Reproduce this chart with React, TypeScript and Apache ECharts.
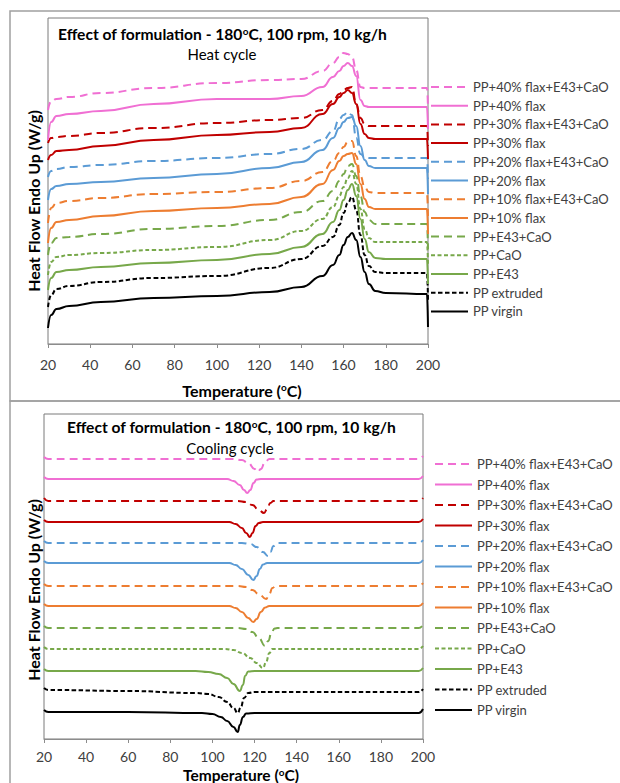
import React, { useEffect, useRef } from "react";
import * as echarts from "echarts";

const FONT = "Lato, 'Open Sans', sans-serif";

// ---- series (legend order, top to bottom) ----
const SERIES_NAMES = [
  "PP+40% flax+E43+CaO",
  "PP+40% flax",
  "PP+30% flax+E43+CaO",
  "PP+30% flax",
  "PP+20% flax+E43+CaO",
  "PP+20% flax",
  "PP+10% flax+E43+CaO",
  "PP+10% flax",
  "PP+E43+CaO",
  "PP+CaO",
  "PP+E43",
  "PP extruded",
  "PP virgin",
];
const SERIES_COLORS = [
  "#F06FD3", "#F06FD3", "#C00000", "#C00000", "#5B9BD5", "#5B9BD5",
  "#ED7D31", "#ED7D31", "#77A84A", "#77A84A", "#77A84A", "#000000", "#000000",
];
const SERIES_DASH: (number[] | string)[] = [
  [8, 5], "solid", [8, 5], "solid", [8, 5], "solid", [8, 5], "solid",
  [8, 5], [4, 2.5], "solid", [4.5, 2.5], "solid",
];

const TEMP_TICKS = [20, 40, 60, 80, 100, 120, 140, 160, 180, 200];

// ---- heat cycle: temperatures (°C) and heat flow (arbitrary offset units) ----
const HEAT_T = [20, 21.5, 24, 30, 45, 70, 100, 125, 140, 150, 155, 158, 160, 162, 164, 166, 168, 170, 172, 175, 180, 199.5, 200];
const HEAT_40E = [234, 243, 245, 247, 251, 256, 261, 264, 265, 273, 281, 287, 291, 290, 287, 274, 257, 256, 256, 256, 256, 256, 236];
const HEAT_40 = [204, 222, 228, 230, 233, 240, 245, 245, 248, 257, 267, 273, 278, 281, 278, 268, 244, 238, 237, 237, 237, 237, 215];
const HEAT_30E = [201, 206, 207, 208, 211, 216, 221, 224, 226, 234, 243, 250, 254, 256, 257, 240, 226, 220, 218, 218, 218, 218, 198];
const HEAT_30 = [184, 189, 193, 194, 198, 204, 209, 212, 216, 230, 240, 247, 251, 254, 251, 240, 220, 210, 206, 205, 205, 205, 185];
const HEAT_20E = [167, 173, 175, 177, 179, 183, 186, 190, 195, 204, 213, 225, 229, 232, 229, 206, 190, 187, 186, 186, 186, 186, 165];
const HEAT_20 = [144, 155, 158, 160, 162, 166, 170, 176, 182, 194, 206, 216, 222, 226, 227, 218, 198, 184, 178, 176, 176, 176, 150];
const HEAT_10E = [121, 136, 141, 143, 146, 150, 152, 156, 163, 172, 183, 191, 197, 202, 203, 188, 168, 157, 152, 151, 151, 151, 128];
const HEAT_10 = [101, 116, 122, 124, 128, 133, 136, 140, 147, 160, 174, 183, 188, 190, 191, 180, 160, 145, 137, 135, 135, 135, 110];
const HEAT_E43CAO = [89, 101, 106, 107, 110, 115, 118, 124, 132, 143, 153, 163, 170, 178, 180, 168, 148, 132, 124, 120, 120, 120, 95];
const HEAT_CAO = [69, 82, 87, 89, 91, 94, 97, 104, 113, 125, 137, 148, 157, 166, 173, 160, 135, 115, 106, 102, 102, 102, 80];
const HEAT_E43 = [54, 66, 72, 74, 77, 81, 84, 90, 97, 110, 122, 134, 144, 154, 160, 148, 125, 105, 92, 86, 85, 85, 60];
const HEAT_EXTRUDED = [37, 49, 55, 58, 62, 66, 68, 76, 85, 98, 107, 119, 131, 141, 147, 134, 109, 89, 78, 72, 71, 71, 44];
const HEAT_VIRGIN = [16, 29, 35, 38, 42, 46, 48, 52, 57, 68, 79, 89, 99, 107, 111, 104, 87, 72, 60, 53, 51, 50, 17];
const HEAT_VALUES = [
  HEAT_40E, HEAT_40, HEAT_30E, HEAT_30, HEAT_20E, HEAT_20, HEAT_10E, HEAT_10,
  HEAT_E43CAO, HEAT_CAO, HEAT_E43, HEAT_EXTRUDED, HEAT_VIRGIN,
];
const HEAT_Y_MAX = 326;

// ---- cooling cycle: [temperature °C, heat flow (arbitrary offset units)] ----
const COOL_40E = [[20, 282], [22, 280], [110, 280], [114, 279], [117, 276], [120, 270], [121.5, 267], [123, 270], [125, 277], [127, 280], [198, 280], [200, 283]];
const COOL_40 = [[20, 262], [22, 260], [107, 260], [110, 258], [113, 254], [115, 249], [116.5, 246], [118, 249], [119.5, 256], [121, 259.5], [123, 260], [198, 260], [200, 263]];
const COOL_30E = [[20, 241], [22, 238], [112, 238], [116, 237], [119, 234], [122, 229], [124.5, 226], [126, 230], [127.5, 236], [129, 238], [198, 238], [200, 241]];
const COOL_30 = [[20, 219], [22, 217], [108, 217], [111, 215], [114, 211], [116, 206], [117.8, 202], [119, 206], [120.5, 213], [122, 216], [124, 217], [198, 217], [200, 220]];
const COOL_20E = [[20, 198], [22, 196], [114, 196], [118, 195], [121, 192], [124, 187], [126.4, 183], [127.5, 187], [129, 193], [130.5, 196], [198, 196], [200, 199]];
const COOL_20 = [[20, 178], [22, 176], [108, 176], [111, 174], [114, 170], [117, 164], [119.4, 159], [121, 163], [122.5, 170], [124, 174.5], [126, 176], [198, 176], [200, 179]];
const COOL_10E = [[20, 155], [22, 153], [112, 153], [116, 152], [119, 149], [122, 145], [125.5, 140], [127, 145], [128.5, 151], [130, 153], [198, 153], [200, 156]];
const COOL_10 = [[20, 135], [22, 133], [108, 133], [111, 131], [114, 127], [117, 121], [119.4, 117], [121, 120], [123, 127], [125, 131.5], [127, 133], [198, 133], [200, 136]];
const COOL_E43CAO = [[20, 113], [22, 111], [112, 111], [116, 110], [119, 107], [122, 101], [125, 93], [126.5, 98], [128, 106], [129.5, 110.5], [131, 111], [198, 111], [200, 114]];
const COOL_CAO = [[20, 92], [22, 90], [106, 90], [110, 89], [114, 86], [118, 81], [121, 76], [124, 71], [125.5, 77], [127, 86], [128.5, 90], [198, 90], [200, 93]];
const COOL_E43 = [[20, 70], [22, 68], [92, 68], [98, 67], [103, 65], [107, 61], [110, 55], [113, 48], [114.5, 54], [115.5, 63], [117, 67.5], [120, 68], [198, 68], [200, 71]];
const COOL_EXTRUDED = [[20, 51], [22, 49], [60, 48], [92, 46], [98, 45], [103, 42], [107, 37], [110, 31], [112, 26], [113.5, 32], [115, 41], [117, 46], [120, 47], [198, 47], [200, 50]];
const COOL_VIRGIN = [[20, 29], [22, 27], [60, 27], [95, 26], [100, 25], [104, 22], [107, 18], [110, 12], [112, 7], [113, 14], [114.5, 22], [116, 25.5], [120, 26], [198, 26], [200, 30]];
const COOL_VALUES = [
  COOL_40E, COOL_40, COOL_30E, COOL_30, COOL_20E, COOL_20, COOL_10E, COOL_10,
  COOL_E43CAO, COOL_CAO, COOL_E43, COOL_EXTRUDED, COOL_VIRGIN,
];
const COOL_Y_MAX = 325;

const TITLE_MAIN = ["Effect of formulation - 180", "o", "C, 100 rpm, 10 kg/h"];
const SUB_HEAT = "Heat cycle";
const SUB_COOL = "Cooling cycle";
const X_TITLE = ["Temperature (", "o", "C)"];
const Y_TITLE = "Heat Flow Endo Up (W/g)";

function supRich(size: number) {
  return {
    b: { fontFamily: FONT, fontWeight: "bold", fontSize: size, color: "#000", lineHeight: Math.round(size) },
    s: { fontFamily: FONT, fontWeight: "bold", fontSize: Math.round(size * 0.65), color: "#000", lineHeight: Math.round(size * 0.65), verticalAlign: "top" },
  };
}
function supText(parts: string[]) {
  return `{b|${parts[0]}}{s|${parts[1]}}{b|${parts[2]}}`;
}

export default function App() {
  const ref = useRef<HTMLDivElement>(null);
  useEffect(() => {
    if (!ref.current) return;
    const chart = echarts.init(ref.current, undefined, { renderer: "svg" });

    const grids = [
      { left: 48, top: 18, right: 192, bottom: 439 },
      { left: 44, top: 414, right: 197, bottom: 44 },
    ];

    const xAxes = grids.map((_, i) => ({
      type: "value",
      gridIndex: i,
      min: TEMP_TICKS[0],
      max: TEMP_TICKS[TEMP_TICKS.length - 1],
      interval: TEMP_TICKS[1] - TEMP_TICKS[0],
      axisLine: { show: true, lineStyle: { color: "#8c8c8c", width: 1 } },
      axisTick: { show: true, length: 4, lineStyle: { color: "#8c8c8c" } },
      axisLabel: { fontFamily: FONT, fontSize: 14, color: "#404040", margin: i === 0 ? 13 : 10 },
      splitLine: { show: false },
    }));
    const yAxes = [HEAT_Y_MAX, COOL_Y_MAX].map((mx, i) => ({
      type: "value",
      gridIndex: i,
      min: 0,
      max: mx,
      axisLine: { show: false },
      axisTick: { show: false },
      axisLabel: { show: false },
      splitLine: { show: false },
    }));

    const makeSeries = (panel: number) =>
      SERIES_NAMES.map((name, k) => ({
        name,
        type: "line",
        xAxisIndex: panel,
        yAxisIndex: panel,
        data:
          panel === 0
            ? HEAT_T.map((t, j) => [t, HEAT_VALUES[k][j]])
            : COOL_VALUES[k],
        symbol: "none",
        smooth: 0.5,
        smoothMonotone: "x",
        lineStyle: { color: SERIES_COLORS[k], width: 2, type: SERIES_DASH[k] },
        itemStyle: { color: SERIES_COLORS[k] },
        z: 2 + (SERIES_NAMES.length - k) / 100,
      })).reverse();

    const legendBase = {
      orient: "vertical",
      itemWidth: 37,
      itemHeight: 10,
      padding: 0,
      selectedMode: false,
      data: SERIES_NAMES,
      itemStyle: { opacity: 0 },
      textStyle: { fontFamily: FONT, fontSize: 13, color: "#404040", lineHeight: 14 },
    };

    const option: any = {
      animation: false,
      backgroundColor: "#fff",
      textStyle: { fontFamily: FONT },
      grid: grids.map((g) => ({ ...g, show: true, borderColor: "#7a7a7a", borderWidth: 1, backgroundColor: "transparent" })),
      xAxis: xAxes,
      yAxis: yAxes,
      legend: [
        { ...legendBase, left: 430, top: 80, itemGap: 4.7 },
        { ...legendBase, left: 434, top: 457, itemGap: 6.5 },
      ],
      series: [...makeSeries(0), ...makeSeries(1)],
      graphic: [
        { type: "rect", silent: true, z: 0, shape: { x: 10, y: 11, width: 640, height: 390 }, style: { fill: "none", stroke: "#a0a0a0", lineWidth: 1.5 } },
        { type: "rect", silent: true, z: 0, shape: { x: 10, y: 401, width: 640, height: 400 }, style: { fill: "none", stroke: "#a0a0a0", lineWidth: 1.5 } },
        { type: "text", x: 58, y: 34, style: { text: supText(TITLE_MAIN), rich: supRich(15.6), align: "left", verticalAlign: "middle" } },
        { type: "text", x: 222, y: 54, style: { text: SUB_HEAT, fontFamily: FONT, fontSize: 15, fill: "#000", align: "center", verticalAlign: "middle" } },
        { type: "text", x: 67, y: 427, style: { text: supText(TITLE_MAIN), rich: supRich(15.6), align: "left", verticalAlign: "middle" } },
        { type: "text", x: 230, y: 448, style: { text: SUB_COOL, fontFamily: FONT, fontSize: 15, fill: "#000", align: "center", verticalAlign: "middle" } },
        { type: "text", x: 242, y: 390, style: { text: supText(X_TITLE), rich: supRich(16), align: "center", verticalAlign: "middle" } },
        { type: "text", x: 241, y: 775, style: { text: supText(X_TITLE), rich: supRich(15.5), align: "center", verticalAlign: "middle" } },
        { type: "text", x: 33, y: 201, rotation: Math.PI / 2, style: { text: Y_TITLE, fontFamily: FONT, fontWeight: "bold", fontSize: 16, fill: "#000", align: "center", verticalAlign: "middle" } },
        { type: "text", x: 33, y: 590, rotation: Math.PI / 2, style: { text: Y_TITLE, fontFamily: FONT, fontWeight: "bold", fontSize: 16, fill: "#000", align: "center", verticalAlign: "middle" } },
      ],
    };
    chart.setOption(option);
    return () => chart.dispose();
  }, []);
  return (
    <div
      ref={ref}
      style={{ position: "absolute", left: 0, top: 0, width: 620, height: 783, background: "#fff" }}
    />
  );
}
